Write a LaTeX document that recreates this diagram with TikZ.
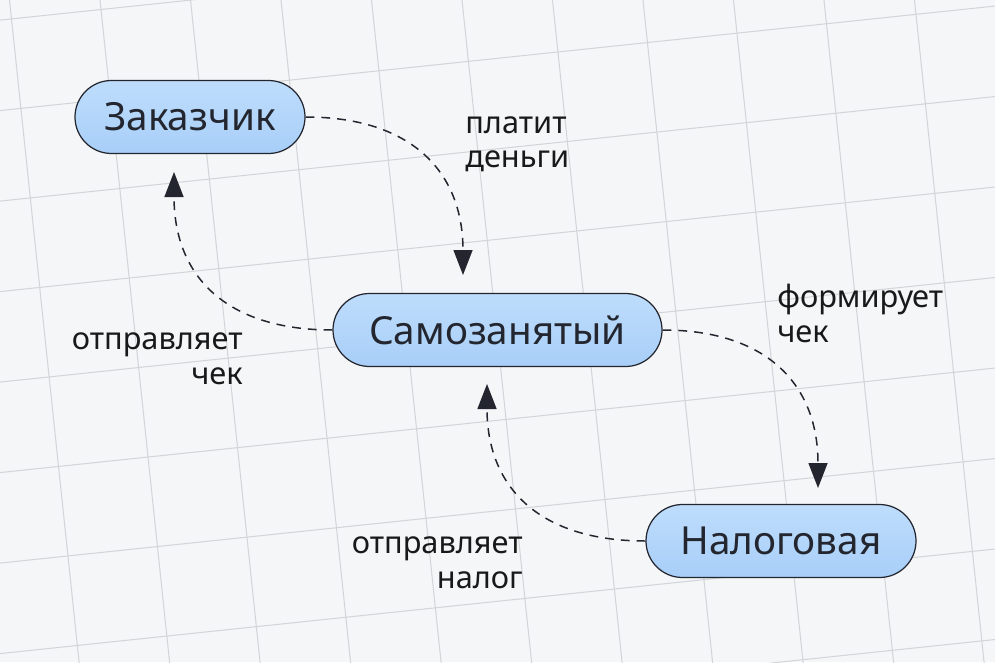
\documentclass[tikz,border=0pt]{standalone}
\usepackage{fontspec}
\setmainfont{Noto Sans}
\usepackage{tikz}
\usetikzlibrary{calc}
\usetikzlibrary{arrows.meta}
\definecolor{PaperGray}{HTML}{F5F6F8}
\definecolor{GridGray}{HTML}{D4D5D9}
\definecolor{BoxBlueTop}{HTML}{BEDDFC}
\definecolor{BoxBlueBottom}{HTML}{A8CEF8}
\definecolor{InkDark}{HTML}{23262F}
\tikzstyle{party} = [rectangle, rounded corners=0.73cm, minimum height=1.46cm, draw=InkDark, line width=0.7pt, top color=BoxBlueTop, bottom color=BoxBlueBottom, text=InkDark, font=\fontsize{22}{26}\selectfont, inner sep=0pt]
\tikzstyle{flow} = [InkDark, line width=0.85pt, dash pattern=on 5pt off 4pt, -{Triangle[length=0.5cm,width=0.38cm]}]
\tikzstyle{note} = [font=\fontsize{17.5}{19.5}\selectfont, text=black!90, inner sep=0pt]
\tikzstyle{gridline} = [GridGray, line width=0.6pt]

\begin{document}
\begin{tikzpicture}
  \useasboundingbox (0,0) rectangle (19.9,13.24);
  \fill[PaperGray] (0,0) rectangle (19.9,13.24);
  % tilted squared paper
  \begin{scope}
    \clip (0,0) rectangle (19.9,13.24);
    \begin{scope}[shift={(2.02,13.05)}, rotate=6]
      \foreach \i in {-3,...,11} {
        \draw[gridline] (\i*1.8,-16) -- (\i*1.8,3);
      }
      \foreach \j in {-9,...,2} {
        \draw[gridline] (-6,\j*1.8) -- (22,\j*1.8);
      }
    \end{scope}
  \end{scope}

  % who takes part
  \node[party, minimum width=4.6cm] (client) at (3.8,10.9) {Заказчик};
  \node[party, minimum width=6.58cm] (self) at (9.95,6.64) {Самозанятый};
  \node[party, minimum width=5.4cm] (tax) at (15.62,2.42) {Налоговая};

  % where the arrows stop
  \coordinate (payEnd) at (9.26,7.74);
  \coordinate (checkEnd) at (3.48,9.8);
  \coordinate (formEnd) at (16.36,3.48);
  \coordinate (taxEnd) at (9.74,5.56);

  \draw[flow] (client.east) to[out=0,in=90,looseness=1.2] (payEnd);
  \draw[flow] (self.west) to[out=180,in=-90,looseness=1.2] (checkEnd);
  \draw[flow] (self.east) to[out=0,in=90,looseness=1.2] (formEnd);
  \draw[flow] (tax.west) to[out=180,in=-90,looseness=1.2] (taxEnd);

  % what happens (base = last line)
  \node[note, anchor=base west, align=left] (payText) at (9.30,9.88) {платит\\деньги};
  \node[note, anchor=base east, align=right] (checkText) at (4.86,5.56) {отправляет\\чек};
  \node[note, anchor=base west, align=left] (formText) at (15.54,6.4) {формирует\\чек};
  \node[note, anchor=base east, align=right] (taxText) at (10.46,1.48) {отправляет\\налог};
\end{tikzpicture}
\end{document}
